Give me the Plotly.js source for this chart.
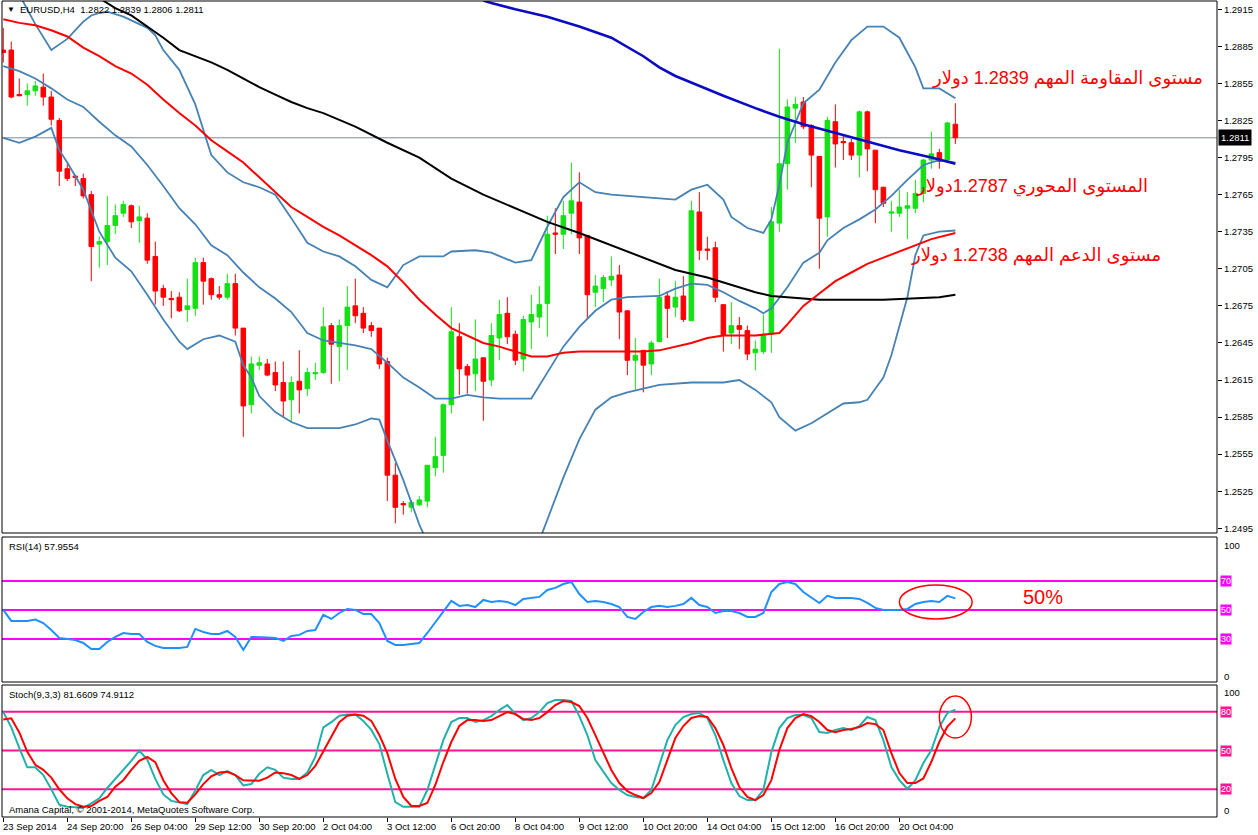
<!DOCTYPE html>
<html><head><meta charset="utf-8">
<script src="https://cdn.plot.ly/plotly-3.0.1.min.js"></script>
<style>html,body{margin:0;padding:0;background:#fff;}#chart{width:1258px;height:835px;}</style>
</head><body><div id="chart"></div>
<script>
// ---------- DATA ----------
const symbolTitle = "EURUSD,H4  1.2822 1.2839 1.2806 1.2811";
const lastPrice = 1.2811;
const timeTickIdx = [0,8,16,24,32,40,48,56,64,72,80,88,96,104,112];
const timeTickText = ["23 Sep 2014","24 Sep 20:00","26 Sep 04:00","29 Sep 12:00","30 Sep 20:00","2 Oct 04:00","3 Oct 12:00","6 Oct 20:00","8 Oct 04:00","9 Oct 12:00","10 Oct 20:00","14 Oct 04:00","15 Oct 12:00","16 Oct 20:00","20 Oct 04:00"];
const priceTicks = [1.2495,1.2525,1.2555,1.2585,1.2615,1.2645,1.2675,1.2705,1.2735,1.2765,1.2795,1.2825,1.2855,1.2885,1.2915];

const open = [1.2882,1.2882,1.2846,1.2846,1.2849,1.2852,1.2844,1.2825,1.2786,1.2780,
1.2778,1.2765,1.2725,1.2727,1.2740,1.2750,1.2756,1.2744,1.2746,1.2715,
1.2689,1.2681,1.2682,1.2672,1.2673,1.2710,1.2697,1.2684,1.2682,1.2693,
1.2657,1.2595,1.2627,1.2628,1.2621,1.2613,1.2599,1.2614,1.2608,1.2620,
1.2621,1.2659,1.2642,1.2659,1.2675,1.2669,1.2659,1.2657,1.2630,1.2538,
1.2515,1.2512,1.2514,1.2517,1.2544,1.2554,1.2595,1.2650,1.2626,1.2620,
1.2633,1.2615,1.2649,1.2669,1.2652,1.2632,1.2662,1.2666,1.2677,1.2734,
1.2733,1.2750,1.2759,1.2732,1.2686,1.2689,1.2696,1.2700,1.2671,1.2631,
1.2639,1.2628,1.2646,1.2683,1.2674,1.2683,1.2663,1.2751,1.2721,1.2722,
1.2676,1.2653,1.2659,1.2655,1.2637,1.2638,1.2652,1.2742,1.2790,1.2835,
1.2840,1.2821,1.2796,1.2747,1.2824,1.2808,1.2807,1.2797,1.2832,1.2801,
1.2771,1.2750,1.2750,1.2754,1.2754,1.2766,1.2793,1.2799,1.2793,1.2822];
const high = [1.2900,1.2889,1.2859,1.2855,1.2857,1.2863,1.2849,1.2827,1.2790,1.2781,
1.2782,1.2768,1.2731,1.2764,1.2757,1.2760,1.2757,1.2756,1.2750,1.2727,
1.2692,1.2687,1.2686,1.2697,1.2714,1.2714,1.2698,1.2691,1.2701,1.2701,
1.2657,1.2634,1.2634,1.2632,1.2630,1.2630,1.2618,1.2639,1.2625,1.2629,
1.2674,1.2661,1.2664,1.2691,1.2697,1.2674,1.2662,1.2657,1.2633,1.2548,
1.2517,1.2518,1.2521,1.2546,1.2569,1.2596,1.2674,1.2661,1.2628,1.2664,
1.2633,1.2661,1.2680,1.2682,1.2655,1.2667,1.2684,1.2691,1.2748,1.2754,
1.2760,1.2791,1.2783,1.2732,1.2700,1.2700,1.2715,1.2708,1.2671,1.2649,
1.2639,1.2647,1.2697,1.2687,1.2695,1.2699,1.2760,1.2767,1.2731,1.2727,
1.2676,1.2678,1.2666,1.2659,1.2647,1.2668,1.2755,1.2883,1.2842,1.2844,
1.2844,1.2822,1.2796,1.2828,1.2838,1.2814,1.2810,1.2833,1.2833,1.2801,
1.2771,1.2760,1.2769,1.2767,1.2777,1.2794,1.2816,1.2802,1.2824,1.2839];
const low = [1.2872,1.2843,1.2845,1.2837,1.2845,1.2837,1.2821,1.2772,1.2776,1.2772,
1.2762,1.2695,1.2706,1.2708,1.2733,1.2747,1.2738,1.2726,1.2709,1.2676,
1.2675,1.2665,1.2670,1.2662,1.2667,1.2676,1.2680,1.2680,1.2680,1.2651,
1.2569,1.2588,1.2623,1.2618,1.2606,1.2585,1.2581,1.2588,1.2602,1.2615,
1.2620,1.2612,1.2614,1.2623,1.2661,1.2653,1.2650,1.2624,1.2517,1.2499,
1.2506,1.2508,1.2513,1.2512,1.2537,1.2540,1.2588,1.2603,1.2604,1.2606,
1.2582,1.2610,1.2631,1.2644,1.2627,1.2622,1.2640,1.2657,1.2650,1.2717,
1.2721,1.2733,1.2717,1.2665,1.2674,1.2678,1.2691,1.2648,1.2619,1.2607,
1.2605,1.2619,1.2646,1.2649,1.2666,1.2662,1.2663,1.2712,1.2712,1.2678,
1.2638,1.2644,1.2640,1.2631,1.2623,1.2636,1.2637,1.2735,1.2769,1.2807,
1.2818,1.2771,1.2705,1.2731,1.2787,1.2793,1.2793,1.2779,1.2784,1.2742,
1.2755,1.2735,1.2747,1.2729,1.2750,1.2759,1.2786,1.2786,1.2792,1.2806];
const close = [1.2880,1.2844,1.2845,1.2849,1.2853,1.2844,1.2826,1.2784,1.2778,1.2779,
1.2764,1.2723,1.2727,1.2740,1.2748,1.2757,1.2743,1.2747,1.2712,1.2687,
1.2682,1.2680,1.2671,1.2675,1.2710,1.2695,1.2684,1.2682,1.2693,1.2657,
1.2594,1.2628,1.2629,1.2619,1.2611,1.2598,1.2613,1.2607,1.2621,1.2621,
1.2658,1.2644,1.2659,1.2674,1.2667,1.2657,1.2655,1.2628,1.2538,1.2512,
1.2514,1.2516,1.2518,1.2546,1.2553,1.2595,1.2654,1.2624,1.2619,1.2632,
1.2614,1.2651,1.2668,1.2650,1.2631,1.2664,1.2668,1.2676,1.2733,1.2733,
1.2748,1.2760,1.2730,1.2684,1.2691,1.2698,1.2699,1.2670,1.2631,1.2635,
1.2627,1.2645,1.2682,1.2673,1.2682,1.2664,1.2752,1.2720,1.2720,1.2682,
1.2651,1.2659,1.2656,1.2636,1.2640,1.2652,1.2743,1.2790,1.2836,1.2838,
1.2820,1.2797,1.2746,1.2825,1.2806,1.2807,1.2797,1.2832,1.2802,1.2769,
1.2758,1.2751,1.2755,1.2756,1.2766,1.2793,1.2798,1.2792,1.2823,1.2811];

const bbUpperIdx = [0,2,4,6,8,10,11,12,13,15,18,19,20,22,24,26,28,30,32,34,36,38,40,42,44,46,48,50,52,55,56,59,61,64,66,68,70,72,74,76,80,84,86,88,90,91,93,95,96,97,98,100,102,104,106,108,110,112,114,115,117,119];
const bbUpper = [1.2949,1.2927,1.2903,1.2882,1.2891,1.2905,1.2910,1.2912,1.2913,1.2909,1.2900,1.2894,1.2882,1.2866,1.2838,1.2797,1.2783,1.2775,1.2771,1.2765,1.2746,1.2726,1.2719,1.2715,1.2707,1.2696,1.2690,1.2708,1.2715,1.2715,1.2719,1.2720,1.2718,1.2710,1.2712,1.2739,1.2763,1.2775,1.2767,1.2765,1.2763,1.2761,1.2769,1.2773,1.2761,1.2747,1.2738,1.2734,1.2745,1.2773,1.2807,1.2839,1.2850,1.2872,1.2890,1.2901,1.2901,1.2892,1.2868,1.2851,1.2851,1.2843];
const bbMidIdx = [0,2,4,6,8,10,12,14,16,18,20,22,24,26,28,30,32,34,36,38,40,42,44,46,48,50,52,54,56,58,60,62,64,66,68,70,72,74,76,78,82,84,86,88,90,92,94,95,96,98,100,102,103,105,107,109,111,113,115,117,119];
const bbMid = [1.2869,1.2865,1.2859,1.2851,1.2842,1.2836,1.2824,1.2813,1.2804,1.2789,1.2772,1.2754,1.2741,1.2724,1.2716,1.2702,1.2690,1.2681,1.2670,1.2653,1.2647,1.2645,1.2643,1.2640,1.2629,1.2617,1.2609,1.2600,1.2600,1.2603,1.2601,1.2600,1.2600,1.2600,1.2621,1.2642,1.2658,1.2671,1.2680,1.2682,1.2683,1.2689,1.2693,1.2692,1.2686,1.2679,1.2673,1.2669,1.2673,1.2690,1.2710,1.2718,1.2728,1.2738,1.2745,1.2753,1.2764,1.2777,1.2789,1.2793,1.2791];
const bbLowerIdx = [0,2,4,6,7,8,10,12,14,16,18,20,22,23,25,27,29,30,31,32,34,36,38,42,44,46,47,48,50,52,54,56,60,64,67,68,70,72,74,76,78,82,86,90,92,94,96,97,99,101,103,105,107,108,110,111,113,114,115,117,119];
const bbLower = [1.2811,1.2807,1.2812,1.2819,1.2801,1.2791,1.2769,1.2735,1.2714,1.2703,1.2684,1.2664,1.2646,1.2640,1.2648,1.2651,1.2646,1.2627,1.2617,1.2602,1.2589,1.2581,1.2576,1.2576,1.2579,1.2584,1.2583,1.2566,1.2534,1.2498,1.2469,1.2445,1.2433,1.2445,1.2485,1.2502,1.2536,1.2567,1.2591,1.2601,1.2605,1.2611,1.2613,1.2613,1.2615,1.2607,1.2597,1.2585,1.2574,1.2580,1.2588,1.2596,1.2597,1.2599,1.2617,1.2635,1.2682,1.2716,1.2732,1.2735,1.2736];
const maRedIdx = [0,2,4,6,8,10,12,14,16,18,20,22,24,26,28,30,32,34,36,38,40,42,44,46,48,50,52,54,56,58,60,62,64,66,68,70,72,76,80,82,84,86,88,90,94,97,98,100,102,104,106,108,110,112,114,116,119];
const maRed = [1.2907,1.2904,1.2902,1.2898,1.2893,1.2884,1.2877,1.2869,1.2863,1.2854,1.2842,1.2831,1.2821,1.2809,1.2800,1.2791,1.2779,1.2767,1.2755,1.2747,1.2739,1.2732,1.2724,1.2716,1.2707,1.2694,1.2680,1.2668,1.2657,1.2651,1.2645,1.2642,1.2638,1.2634,1.2634,1.2637,1.2638,1.2638,1.2638,1.2639,1.2642,1.2645,1.2649,1.2651,1.2651,1.2653,1.2660,1.2675,1.2685,1.2695,1.2702,1.2709,1.2714,1.2719,1.2724,1.2729,1.2734];
const maBlackIdx = [12,14,16,18,20,22,24,26,28,30,32,34,36,38,40,44,48,52,56,60,64,68,72,76,80,84,88,90,92,94,96,98,102,110,114,117,119];
const maBlack = [1.2924,1.2916,1.2910,1.2901,1.2892,1.2882,1.2877,1.2872,1.2866,1.2859,1.2852,1.2846,1.2840,1.2835,1.2831,1.2820,1.2807,1.2795,1.2778,1.2765,1.2754,1.2743,1.2734,1.2724,1.2714,1.2704,1.2698,1.2694,1.2690,1.2686,1.2683,1.2682,1.2680,1.2680,1.2681,1.2682,1.2684];
const maBlueIdx = [60,61,64,68,72,76,80,82,84,87,90,94,97,100,104,108,112,116,119];
const maBlue = [1.2922,1.2920,1.2915,1.2909,1.2901,1.2892,1.2877,1.2868,1.2861,1.2853,1.2845,1.2835,1.2828,1.2822,1.2815,1.2808,1.2801,1.2795,1.2790];

const rsi = [50,42.4,42.4,42.4,43.4,41,36.2,30.7,30,29.3,
27.2,23.1,23.1,27.9,31.4,34.1,33.4,33.4,27.9,25.2,
23.8,23.8,23.8,24.5,36.9,34.8,33.4,33.4,35.5,31.4,
22.4,31.4,31.4,31,30.7,28.6,32.1,32.8,35.5,36.2,
46.6,43.8,47.9,50.7,50,47.2,47.2,41,28.6,25.9,
25.9,26.6,27.2,34.1,41.7,48.6,56.2,52.8,53.4,52,
56.9,55.5,56.2,55.5,53.4,57.6,58.3,59,63.8,65.2,
67.9,69.3,61,55.5,56.2,55.5,54.1,52,45.2,43.8,
48.6,52,52.8,52,52.8,54.1,58.3,53.4,52,47.9,
49.3,49.3,47.9,45.2,45.2,47.9,62.4,67.9,69.3,67.9,
62.4,58.3,54.8,59.7,58.3,58.3,58.3,57.6,54.8,51.4,
50,50,50,50.7,54.1,55.5,56.2,55.5,59.7,57.9554];
const rsiLevels = [70,50,30];

const stochK = [80,68,52,37,37,31,20,8,6.4,6,
5.7,9,13,21,28,35,42,50,43,28,
16,11,10,8.5,19,31,35,31,34,31,
23,24,32,37,35,29,28,28,33,45,
68,72,77,78,78,73,66,55,32,10,
6.4,6.4,6.4,19.4,38.8,58.1,72.1,75.2,75.2,72.1,
73.6,76.7,81.4,85.3,78.3,73.6,75.2,79.8,86.8,89.1,
89.1,88.4,76.7,62,42.6,33.3,24.8,19.4,15.5,14,
13.2,19.4,38.8,58.1,69.8,76,78.3,79.1,75.2,62,
42.6,24.8,14.7,11.6,11.6,19.4,48.8,67.4,75.2,77.5,
77.5,75.2,64.3,63.6,65.9,67.4,65.9,69,76,73.6,
58.1,37.2,27.1,20.2,27.1,40.3,50.4,68.2,79.1,81.6609];
const stochD = [74,75,64,49,39,35,29,20,13,8.5,
6.5,7,11,14,22,27,35,42,45,41,
27,17,10,9.5,16,24,30,33,33.6,31,
27,26.6,26.6,29,33,32.5,31,28,31,38,
49,61,72,77,78,77,73,62,48,28,
14,7,7,9.3,23.3,41.1,56.6,69,73.6,73.6,
72.9,73.6,76.7,79.8,78.3,74.4,73.6,75.2,79.8,85.3,
88.4,87.6,84.5,75.2,62,48.8,34.9,24.8,18.6,15.5,
13.2,17.1,25.6,42.6,59.7,69,75.2,76.7,76,67.4,
54.3,36.4,21.7,14,11.6,15.5,27.1,50.4,67.4,75.2,
78.3,76.7,72.1,65.9,64.3,65.9,66.7,68.2,71.3,70.5,
65.9,48,32.6,24.8,24.8,28.4,41.3,56.8,68.5,74.9112];
const stochLevels = [80,50,20];

const noteResistance = "مستوى المقاومة المهم 1.2839 دولار";
const notePivot = "المستوى المحوري 1.2787دولار";
const noteSupport = "مستوى الدعم المهم 1.2738 دولار";
const noteRsi = "50%";

// ---------- CHART ----------
const idx = open.map((_, i) => i);
const FONT = "'Liberation Sans', Arial, 'DejaVu Sans', sans-serif";
const GREEN = '#14E014';
const line = (x, y, color, width, yaxis) => ({type:'scatter', mode:'lines', x, y, yaxis, line:{color, width}, hoverinfo:'skip', cliponaxis:true});

const traces = [
  line(bbUpperIdx, bbUpper, '#4682B4', 1.8, 'y'),
  line(bbMidIdx, bbMid, '#4682B4', 1.8, 'y'),
  line(bbLowerIdx, bbLower, '#4682B4', 1.8, 'y'),
  line(maBlackIdx, maBlack, '#000000', 2, 'y'),
  line(maRedIdx, maRed, '#FF0000', 2, 'y'),
  line(maBlueIdx, maBlue, '#0B0BC4', 2.6, 'y'),
  {type:'candlestick', x:idx, open, high, low, close, xaxis:'x', yaxis:'y',
   increasing:{line:{color:GREEN, width:1}, fillcolor:GREEN},
   decreasing:{line:{color:'#FF0000', width:1}, fillcolor:'#FF0000'},
   whiskerwidth:0, hoverinfo:'skip'},
  line(idx, rsi, '#1E90FF', 2, 'y2'),
  line(idx, stochK, '#20B2AA', 2, 'y3'),
  line(idx, stochD, '#FF0000', 2, 'y3')
];

const pyY = Y => (817 - Y) / 816; // pixel row -> paper fraction
const shapes = [];
const annotations = [];
[[1,533],[537,682],[685,817]].forEach(([t,b]) => shapes.push({type:'rect', xref:'paper', yref:'paper', x0:0, x1:1, y0:pyY(b), y1:pyY(t), line:{color:'#000', width:1}}));
shapes.push({type:'line', xref:'paper', x0:0, x1:1, yref:'y', y0:lastPrice, y1:lastPrice, line:{color:'#7B8A99', width:1}, layer:'below'});
rsiLevels.forEach(v => {
  shapes.push({type:'line', xref:'paper', x0:0, x1:1, yref:'y2', y0:v, y1:v, line:{color:'#FF00FF', width:2}, layer:'below'});
  annotations.push({xref:'paper', x:1, xanchor:'left', xshift:3, yref:'y2', y:v, yanchor:'middle', text:String(v), showarrow:false, bgcolor:'#FF00FF', borderpad:0, font:{family:FONT, size:9, color:'#fff'}});
});
stochLevels.forEach(v => {
  shapes.push({type:'line', xref:'paper', x0:0, x1:1, yref:'y3', y0:v, y1:v, line:{color:'#FF1493', width:2}, layer:'below'});
  annotations.push({xref:'paper', x:1, xanchor:'left', xshift:3, yref:'y3', y:v, yanchor:'middle', text:String(v), showarrow:false, bgcolor:'#FF1493', borderpad:0, font:{family:FONT, size:9, color:'#fff'}});
});
shapes.push({type:'circle', xref:'x', yref:'y2', x0:112, x1:121.1, y0:43.8, y1:67.2, line:{color:'#FF0000', width:1.5}});
shapes.push({type:'circle', xref:'x', yref:'y3', x0:117, x1:121, y0:59.7, y1:92.2, line:{color:'#FF0000', width:1.5}});

const small = (text, xp, Y, extra) => Object.assign({xref:'paper', yref:'paper', x:xp, y:pyY(Y), xanchor:'left', yanchor:'middle', text, showarrow:false, font:{family:FONT, size:9.5, color:'#000'}}, extra||{});
annotations.push(small('▼', 0.0025, 10, {font:{family:FONT, size:8, color:'#000'}}));
annotations.push(small(symbolTitle, 0.0132, 10));
annotations.push(small('RSI(14) ' + rsi[rsi.length-1].toFixed(4), 0.0041, 546));
annotations.push(small('Stoch(9,3,3) ' + stochK[stochK.length-1].toFixed(4) + ' ' + stochD[stochD.length-1].toFixed(4), 0.0041, 694));
annotations.push(small('Amana Capital, © 2001-2014, MetaQuotes Software Corp.', 0.0041, 809));
[['100',545],['0',676],['100',692],['0',810]].forEach(([t,Y]) => annotations.push(small(t, 1, Y, {xshift:5})));
// time labels, left-aligned at their tick
timeTickIdx.forEach((v, k) => annotations.push({xref:'x', x:v, xanchor:'left', xshift:-2, yref:'paper', y:pyY(826), yanchor:'middle', text:timeTickText[k], showarrow:false, font:{family:FONT, size:9.5, color:'#000'}}));
annotations.push({xref:'paper', x:1, xanchor:'left', xshift:1, yref:'y', y:lastPrice, yanchor:'middle', text:lastPrice.toFixed(4), showarrow:false, bgcolor:'#000', borderpad:2, font:{family:FONT, size:9.5, color:'#fff'}});
const red = {family:"'Liberation Sans', Arial, 'DejaVu Sans', sans-serif", size:18, color:'#FF0000'};
annotations.push({xref:'paper', yref:'paper', x:(1205-2)/1215, y:pyY(78), xanchor:'right', yanchor:'middle', text:noteResistance, showarrow:false, font:red});
annotations.push({xref:'paper', yref:'paper', x:(1150-2)/1215, y:pyY(187), xanchor:'right', yanchor:'middle', text:notePivot, showarrow:false, font:red});
annotations.push({xref:'paper', yref:'paper', x:(1163-2)/1215, y:pyY(255), xanchor:'right', yanchor:'middle', text:noteSupport, showarrow:false, font:red});
annotations.push({xref:'paper', yref:'paper', x:(1043-2)/1215, y:pyY(597), xanchor:'center', yanchor:'middle', text:noteRsi, showarrow:false, font:Object.assign({}, red, {size:20})});

const layout = {
  width:1258, height:835,
  margin:{l:2, r:41, t:1, b:18, pad:0},
  paper_bgcolor:'#fff', plot_bgcolor:'#fff',
  showlegend:false, dragmode:false,
  boxgap:0.43, boxgroupgap:0,
  font:{family:FONT, size:9, color:'#000'},
  xaxis:{anchor:'y3', domain:[0,1], range:[-0.16,151.7], tickvals:timeTickIdx, showticklabels:false,
         ticks:'outside', ticklen:4, tickcolor:'#000',
         showgrid:false, zeroline:false, showline:false, rangeslider:{visible:false}},
  yaxis:{domain:[pyY(533), pyY(1)], range:[1.24912,1.29217], side:'right', anchor:'x',
         tickvals:priceTicks, ticktext:priceTicks.map(v=>v.toFixed(4)), ticks:'outside', ticklen:4, tickcolor:'#000',
         showgrid:false, zeroline:false, showline:false, tickfont:{family:FONT, size:9.5, color:'#000'}},
  yaxis2:{domain:[pyY(682), pyY(537)], range:[0.3,100.3], side:'right', anchor:'x', showticklabels:false, ticks:'', showgrid:false, zeroline:false},
  yaxis3:{domain:[0, pyY(685)], range:[-1.5,100.8], side:'right', anchor:'x', showticklabels:false, ticks:'', showgrid:false, zeroline:false},
  shapes, annotations
};
Plotly.newPlot('chart', traces, layout, {staticPlot:true, displayModeBar:false});
</script></body></html>
